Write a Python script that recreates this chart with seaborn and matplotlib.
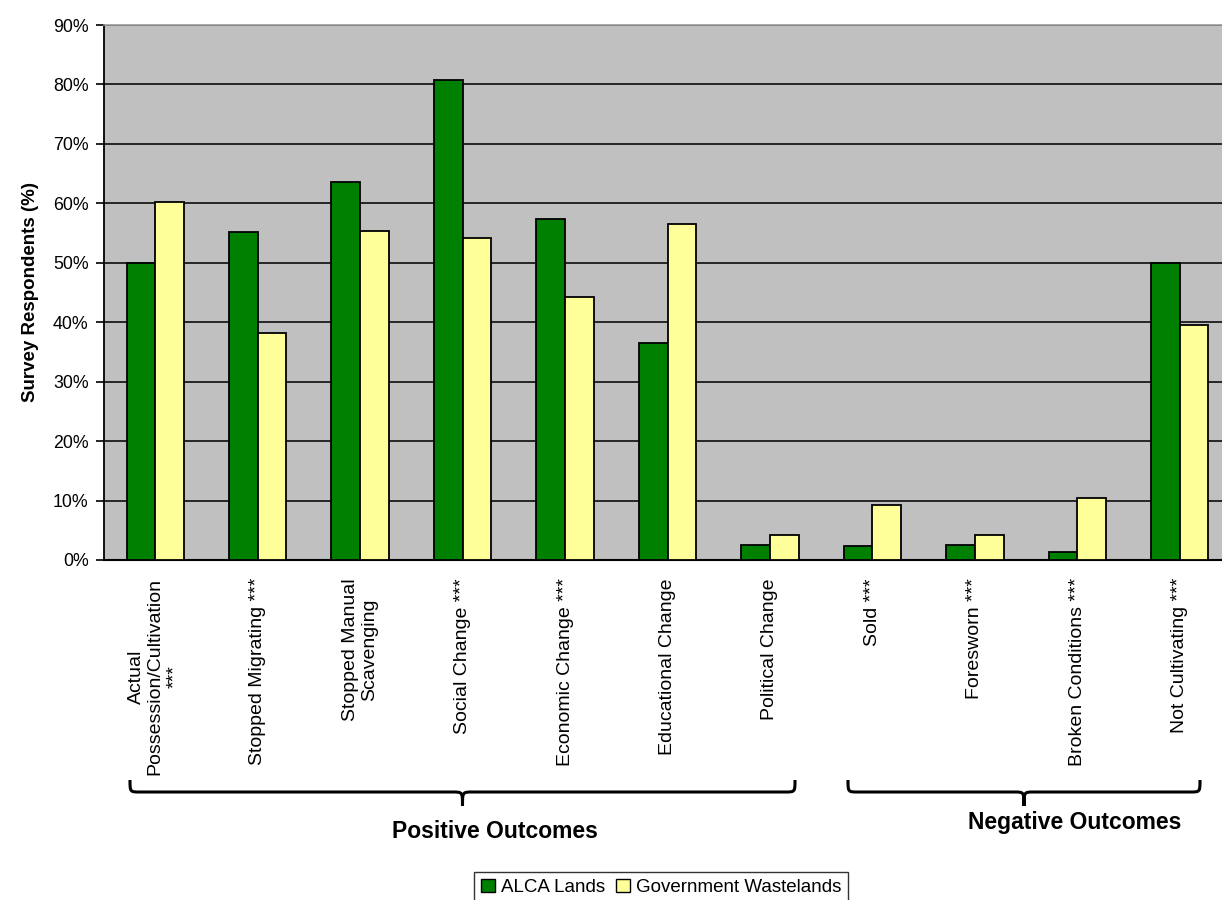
import matplotlib
matplotlib.use("Agg")
import matplotlib.pyplot as plt
from matplotlib.patches import Patch, PathPatch
from matplotlib.path import Path
from matplotlib.ticker import FuncFormatter
import seaborn as sns
import pandas as pd

# Survey outcomes and share of respondents (%) for each land type
categories = [
    "Actual\nPossession/Cultivation\n***",
    "Stopped Migrating ***",
    "Stopped Manual\nScavenging",
    "Social Change ***",
    "Economic Change ***",
    "Educational Change",
    "Political Change",
    "Sold ***",
    "Foresworn ***",
    "Broken Conditions ***",
    "Not Cultivating ***",
]
series = ["ALCA Lands", "Government Wastelands"]
alca_lands = [50.0, 55.1, 63.6, 80.8, 57.3, 36.5, 2.6, 2.3, 2.6, 1.4, 50.0]
gov_wastelands = [60.3, 38.2, 55.4, 54.2, 44.2, 56.5, 4.2, 9.3, 4.2, 10.4, 39.5]
y_ticks = [0, 10, 20, 30, 40, 50, 60, 70, 80, 90]

colors = ["#008000", "#FFFF99"]

df = pd.DataFrame({
    "Outcome": categories * 2,
    "Series": [series[0]] * len(categories) + [series[1]] * len(categories),
    "Percent": alca_lands + gov_wastelands,
})

sns.set_theme(style="white")
plt.rcParams["font.family"] = ["Liberation Sans", "DejaVu Sans"]
plt.rcParams.update({
    "text.color": "black",
    "axes.labelcolor": "black",
    "xtick.color": "black",
    "ytick.color": "black",
})

W, H = 1222, 900
fig = plt.figure(figsize=(W / 100, H / 100), dpi=100)
fig.patch.set_facecolor("white")

# axes placed in pixel terms (left, right, top, bottom)
px_l, px_r, px_t, px_b = 104, 1231, 25, 560
ax = fig.add_axes([px_l / W, 1 - px_b / H, (px_r - px_l) / W, (px_b - px_t) / H])
ax.set_facecolor("#C0C0C0")

sns.barplot(
    data=df, x="Outcome", y="Percent", hue="Series", order=categories,
    hue_order=series, palette=colors, width=0.56, edgecolor="black",
    linewidth=1.3, saturation=1, ax=ax, legend=False, zorder=3,
)

ax.set_ylim(0, 90)
ax.set_xlim(-0.5, len(categories) - 0.5)
ax.set_yticks(y_ticks)
ax.yaxis.set_major_formatter(FuncFormatter(lambda v, _: f"{v:.0f}%"))
ax.grid(axis="y", color="#1a1a1a", linewidth=1.3, zorder=1)
ax.set_axisbelow(True)

for side in ["top", "right"]:
    ax.spines[side].set_color("#9a9a9a")
    ax.spines[side].set_linewidth(1.2)
ax.spines["left"].set_color("black")
ax.spines["left"].set_linewidth(1.3)
ax.spines["bottom"].set_color("black")
ax.spines["bottom"].set_linewidth(1.5)

ax.tick_params(axis="y", which="major", left=True, length=6, width=1.2,
               color="black", pad=5, labelsize=12.8, labelcolor="black")
ax.tick_params(axis="x", bottom=False, pad=7, labelsize=14, labelcolor="black")
ax.set_xticks(range(len(categories)))
ax.set_xticklabels(categories, rotation=90, multialignment="center",
                   linespacing=1.15)

ax.set_xlabel("")
ax.set_ylabel("Survey Respondents (%)", fontsize=13.5, fontweight="bold",
              labelpad=10, color="black")


def to_fig(x, y):
    return (x / W, 1 - y / H)


def brace(x0, x1, y_line, y_end, y_tip, lw=2.2):
    xm = (x0 + x1) / 2
    r = 10
    verts = [
        (x0, y_end), (x0, y_line), (x0, y_line), (x0 + r, y_line),
        (xm - r, y_line), (xm, y_line), (xm, y_line), (xm, y_tip),
        (xm, y_line), (xm, y_line), (xm + r, y_line),
        (x1 - r, y_line), (x1, y_line), (x1, y_line), (x1, y_end),
    ]
    codes = [
        Path.MOVETO, Path.CURVE4, Path.CURVE4, Path.CURVE4,
        Path.LINETO, Path.CURVE4, Path.CURVE4, Path.CURVE4,
        Path.CURVE4, Path.CURVE4, Path.CURVE4,
        Path.LINETO, Path.CURVE4, Path.CURVE4, Path.CURVE4,
    ]
    pts = [to_fig(x, y) for x, y in verts]
    patch = PathPatch(Path(pts, codes), facecolor="none", edgecolor="black",
                      linewidth=lw, transform=fig.transFigure)
    fig.add_artist(patch)


brace(130, 795, 792, 780, 806)
brace(848, 1200, 792, 780, 806)

fig.text(*to_fig(495, 831), "Positive Outcomes", ha="center", va="center",
         fontsize=16.5, fontweight="bold", color="black")
fig.text(*to_fig(1075, 822), "Negative Outcomes", ha="center", va="center",
         fontsize=16.5, fontweight="bold", color="black")

handles = [Patch(facecolor=c, edgecolor="black", linewidth=1.0) for c in colors]
leg = fig.legend(
    handles, series, loc="upper center", bbox_to_anchor=(661 / W, 1 - 872 / H),
    ncol=2, frameon=True, fancybox=False, edgecolor="black", fontsize=13.5,
    handlelength=0.75, handleheight=0.75, handletextpad=0.3,
    columnspacing=0.6, borderpad=0.35, borderaxespad=0,
)
leg.get_frame().set_linewidth(1.0)
for t in leg.get_texts():
    t.set_color("black")

fig.savefig("out.png", dpi=100)
